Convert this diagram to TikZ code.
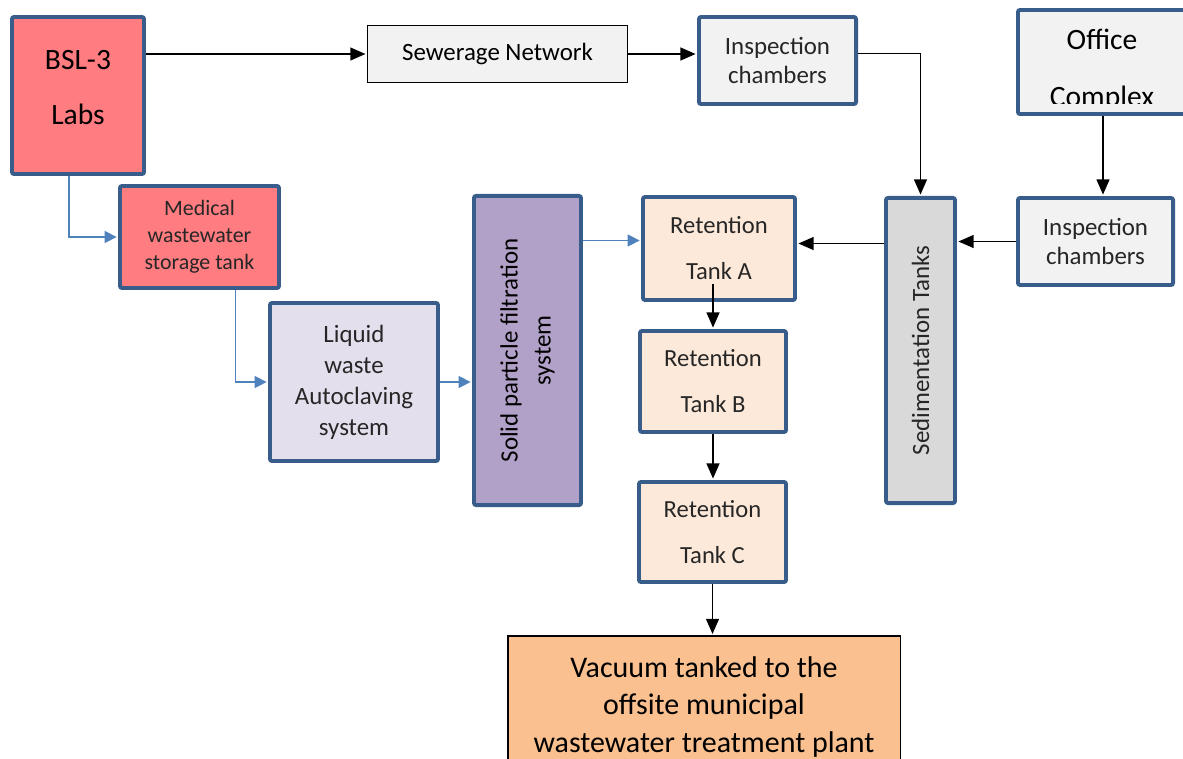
\documentclass[tikz,border=0pt]{standalone}
\usepackage{fontspec}
\setmainfont{Carlito}
\usetikzlibrary{calc, arrows.meta}
\definecolor{frameblue}{HTML}{385D8A}
\definecolor{flowblue}{HTML}{4F81BD}
\definecolor{labpink}{HTML}{FF7C80}
\definecolor{lightgrey}{HTML}{F2F2F2}
\definecolor{midgrey}{HTML}{D9D9D9}
\definecolor{lilac}{HTML}{E4DFEC}
\definecolor{filterpurple}{HTML}{B1A0C7}
\definecolor{peach}{HTML}{FDE9D9}
\definecolor{apricot}{HTML}{FAC090}

\begin{document}
\begin{tikzpicture}[x=0.025cm, y=-0.025cm]
	\tikzstyle{tankbox}=[rectangle, draw=frameblue, line width=2.8pt, rounded corners=1.5pt,
	text=black!85, align=center, inner sep=0pt]
	\tikzstyle{pipebox}=[rectangle, draw=black, line width=0.8pt,
	text=black, align=center, inner sep=0pt]
	\tikzstyle{flow}=[line width=1.3pt, shorten >=1pt, -{Triangle[length=0.38cm, width=0.32cm]}]
	\tikzstyle{bluepipe}=[flowblue, line width=1pt, shorten >=1pt, -{Triangle[length=0.3cm, width=0.3cm]}]

	\clip (0,0) rectangle (1183,758);

	\node[tankbox, fill=labpink, text=black, minimum width=3.3cm, minimum height=3.925cm,
	text depth=11.4pt, font=\fontsize{21}{39}\selectfont] at (78,95.5) (bsl) {BSL-3\\Labs};
	\node[pipebox, fill=lightgrey, minimum width=6.5cm, minimum height=1.425cm,
	font=\fontsize{17.7}{21}\selectfont] at (497.5,54) (sewer) {Sewerage Network};
	\node[tankbox, fill=lightgrey, minimum width=3.925cm, minimum height=2.175cm,
	font=\fontsize{17.7}{21.3}\selectfont] at (777.5,60.5) (inspA) {Inspection\\chambers};
	\node[tankbox, fill=lightgrey, minimum width=4.25cm, minimum height=2.6cm] at (1103,62) (office) {};
	\begin{scope}
		\clip ([xshift=0.05cm,yshift=0.3cm]office.south west) rectangle ([xshift=-0.05cm,yshift=-0.05cm]office.north east);
		\node[font=\fontsize{21}{40.5}\selectfont, align=center, text=black] at (1102,70) (officetext) {Office\\Complex};
	\end{scope}
	\node[tankbox, fill=lightgrey, minimum width=3.875cm, minimum height=2.175cm,
	font=\fontsize{17.7}{21.3}\selectfont] at (1095.5,241.5) (inspB) {Inspection\\chambers};
	\node[tankbox, fill=midgrey, minimum width=1.725cm, minimum height=7.625cm,
	font=\fontsize{17.7}{21}\selectfont] at (920.5,350.5) (sed) {\rotatebox{90}{Sedimentation Tanks}};

	\node[tankbox, fill=labpink, minimum width=3.975cm, minimum height=2.55cm,
	font=\fontsize{15.6}{19.2}\selectfont] at (199.5,237) (medtank) {Medical\\wastewater\\storage tank};
	\node[tankbox, fill=lilac, minimum width=4.2cm, minimum height=3.95cm,
	font=\fontsize{17.7}{22}\selectfont] at (354,382) (autoclave) {Liquid\\waste\\Autoclaving\\system};
	\node[tankbox, fill=filterpurple, text=black, minimum width=2.675cm, minimum height=7.725cm,
	font=\fontsize{17.7}{23.5}\selectfont] at (527.5,350.5) (filter)
	{\rotatebox{90}{\begin{tabular}{@{}c@{}}Solid particle filtration\\system\end{tabular}}};

	\node[tankbox, fill=peach, minimum width=3.8cm, minimum height=2.575cm,
	font=\fontsize{17.5}{32.7}\selectfont] at (719,248.5) (tankA) {Retention\\Tank A};
	\node[tankbox, fill=peach, minimum width=3.65cm, minimum height=2.525cm,
	font=\fontsize{17.5}{32.7}\selectfont] at (713,381.5) (tankB) {Retention\\Tank B};
	\node[tankbox, fill=peach, minimum width=3.675cm, minimum height=2.5cm,
	font=\fontsize{17.5}{32.7}\selectfont] at (712.5,532) (tankC) {Retention\\Tank C};
	\node[pipebox, fill=apricot, minimum width=9.8cm, minimum height=3.55cm,
	font=\fontsize{21.3}{26.7}\selectfont] at (704,707) (vacuum)
	{Vacuum tanked to the\\offsite municipal\\wastewater treatment plant};

	% sewer line
	\draw[flow] (bsl.east |- sewer.west) -- (sewer.west);
	\draw[flow] (sewer.east) -- (sewer.east -| inspA.west);
	\draw[flow] ($(inspA.east)+(0,-7)$) -| (sed.north);
	\draw[flow] (office.south) -- (office.south |- inspB.north);
	\draw[flow] (inspB.west) -- (inspB.west -| sed.east);
	\draw[flow] ($(sed.west |- tankA.east)+(0,-5)$) -- ($(tankA.east)+(0,-5)$);

	\draw[flow] ($(tankA.south -| tankB.north)+(0,-18)$) -- (tankB.north);
	\draw[flow] (tankB.south) -- (tankB.south |- tankC.north);
	\draw[flow] (tankC.south) -- (tankC.south |- vacuum.north);

	% lab waste line
	\draw[bluepipe] ($(bsl.south)+(-9,0)$) |- (medtank.west);
	\draw[bluepipe] ($(medtank.south)+(36,0)$) |- (autoclave.west);
	\draw[bluepipe] (autoclave.east) -- (autoclave.east -| filter.west);
	\draw[bluepipe] ($(filter.east |- tankA.west)+(0,-8)$) -- ($(tankA.west)+(0,-8)$);

\end{tikzpicture}
\end{document}
